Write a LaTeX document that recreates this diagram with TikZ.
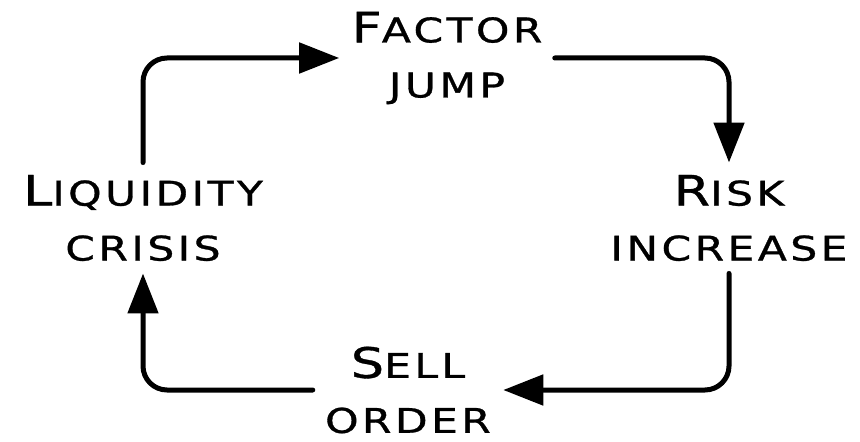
\documentclass[tikz,border=0pt]{standalone}
\usepackage{fontspec}
\usepackage{graphicx}
\usetikzlibrary{arrows.meta,positioning}
\newfontfamily\capfont[LetterSpace=8,FakeBold=0.8]{DejaVu Sans}
\newcommand{\capword}[2]{\scalebox{1.25}[1]{\capfont\fontsize{21}{27.5}\selectfont #1\fontsize{17}{27.5}\selectfont #2}}
\newcommand{\lowword}[1]{\scalebox{1.25}[1]{\capfont\fontsize{17}{27.5}\selectfont #1}}
\tikzset{>={Triangle[length=20pt,width=15pt]}}
\tikzset{
  stage/.style={align=center,inner sep=6pt,font=\fontsize{17}{27.5}\selectfont},
  loop/.style={->,line width=2.5pt,line cap=round,rounded corners=12pt}
}

\begin{document}
\begin{tikzpicture}[x=0.5pt,y=-0.5pt]
  \useasboundingbox (0,0) rectangle (860,442);
  % the four stages
  \node[stage] (factor) at (447,58)  {\capword{F}{ACTOR}\\\lowword{JUMP}};
  \node[stage] (risk)   at (729,218) {\capword{R}{ISK}\\\lowword{INCREASE}};
  \node[stage] (sell)   at (408,390) {\capword{S}{ELL}\\\lowword{ORDER}};
  \node[stage] (liquid) at (143,218) {\capword{L}{IQUIDITY}\\\lowword{CRISIS}};
  % the cycle
  \draw[loop] (liquid.north) |- (factor.west);
  \draw[loop] (factor.east) -| (risk.north);
  \draw[loop] (risk.south) |- (sell.east);
  \draw[loop] (sell.west) -| (liquid.south);
\end{tikzpicture}
\end{document}
